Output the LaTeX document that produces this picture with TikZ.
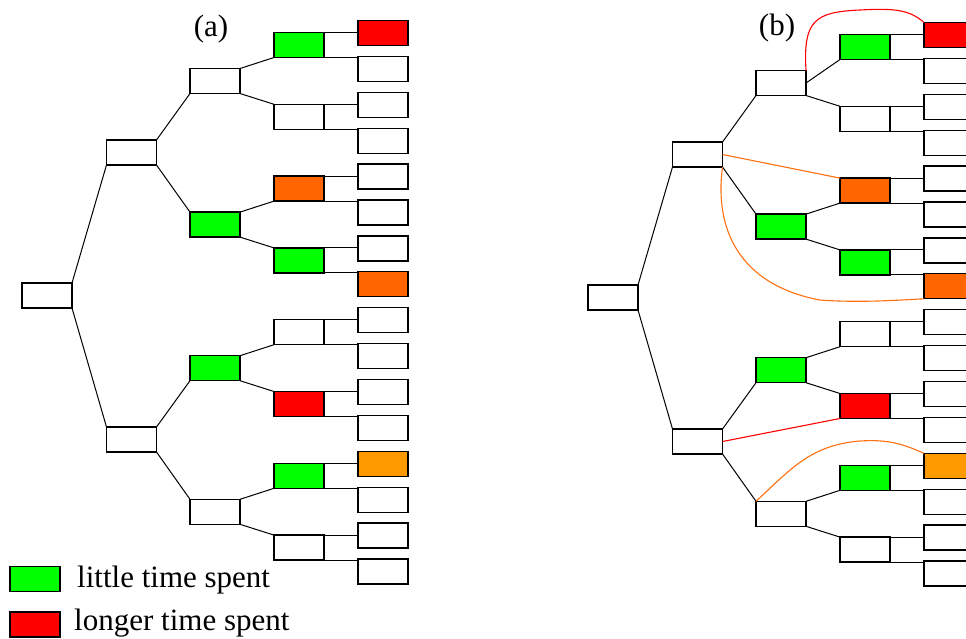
\documentclass[tikz,border=0pt]{standalone}
\usepackage{fontspec}
\setmainfont{Liberation Serif}
\definecolor{cgreen}{HTML}{00FF00}
\definecolor{cred}{HTML}{FF0000}
\definecolor{corange}{HTML}{FF6600}
\definecolor{clorange}{HTML}{FF9900}
\definecolor{ccurve}{HTML}{FF7010}
\newcommand\drawtree[2]{%
  \node[box] (#1-0) at (47,295.5) {};
  \foreach \c [count=\i] in {white,white}
    {\node[box,fill=\c] (#1-1-\i) at (131.5,{152.5+287*(\i-1)}) {};}
  \foreach \c [count=\i] in {white,cgreen,cgreen,white}
    {\node[box,fill=\c] (#1-2-\i) at (215,{81+143.6*(\i-1)}) {};}
  \foreach \c [count=\i] in {cgreen,white,corange,cgreen,white,cred,cgreen,white}
    {\node[box,fill=\c] (#1-3-\i) at (299,{45+71.8*(\i-1)}) {};}
  \foreach \c [count=\i] in {cred,white,white,white,white,white,white,corange,white,white,white,white,clorange,white,white,white}
    {\node[box,fill=\c] (#1-4-\i) at (383,{33+35.9*(\i-1)}) {};}
  \draw[link] (#1-0.north east) -- (#1-1-1.south west);
  \draw[link] (#1-0.south east) -- (#1-1-2.north west);
  \foreach \p in {1,2}{%
    \pgfmathtruncatemacro\u{2*\p-1}\pgfmathtruncatemacro\l{2*\p}%
    \draw[link] (#1-1-\p.north east) -- (#1-2-\u.south west);
    \draw[link] (#1-1-\p.south east) -- (#1-2-\l.north west);}
  \draw[link] (#1-2-1.#2) -- (#1-3-1.south west);
  \draw[link] (#1-2-1.south east) -- (#1-3-2.north west);
  \foreach \p in {2,3,4}{%
    \pgfmathtruncatemacro\u{2*\p-1}\pgfmathtruncatemacro\l{2*\p}%
    \draw[link] (#1-2-\p.north east) -- (#1-3-\u.south west);
    \draw[link] (#1-2-\p.south east) -- (#1-3-\l.north west);}
  \foreach \p in {1,...,8}{%
    \pgfmathtruncatemacro\u{2*\p-1}\pgfmathtruncatemacro\l{2*\p}%
    \draw[link] (#1-3-\p.north east) -- (#1-3-\p.north east -| #1-4-\u.west);
    \draw[link] (#1-3-\p.south east) -- (#1-3-\p.south east -| #1-4-\l.west);}
}
\begin{document}
\begin{tikzpicture}[x=1pt,y=-1pt,
  box/.style={draw=black,line width=1.3pt,minimum width=50pt,minimum height=25pt,inner sep=0pt,outer sep=0pt},
  link/.style={line width=1pt,black},
  lab/.style={font=\fontsize{31}{31}\selectfont,inner sep=0pt},
  redc/.style={draw=cred,line width=1.1pt},
  orc/.style={draw=ccurve,line width=1.1pt}]
\clip (0,0) rectangle (966,638);
\fill[white] (0,0) rectangle (966,638);
\begin{scope}
\drawtree{a}{north east}
\end{scope}
\begin{scope}[shift={(566,2)}]
\drawtree{b}{east}
\end{scope}
\node[lab] (la) at (211,29.5) {(a)};
\node[lab] (lb) at (777,28) {(b)};
% highlight connectors in (b)
\draw[redc] (b-2-1.north east) .. controls (803,20) and (815,12) .. (860,10)
  .. controls (895,8) and (910,10) .. (b-4-1.north west);
\draw[orc] (b-1-1.east) -- (b-3-3.north west);
\draw[orc] (b-1-1.south east) .. controls (714,230) and (740,285) .. (820,300)
  .. controls (860,303) and (900,300) .. (b-4-8.south west);
\draw[redc] (b-1-2.east) -- (b-3-6.south west);
\draw[orc] (b-2-4.north west) .. controls (790,470) and (810,445) .. (860,441)
  .. controls (890,439) and (905,445) .. (b-4-13.north west);
% legend
\node[box,fill=cgreen] (lg) at (35,579) {};
\node[box,fill=cred] (lr) at (35,624.5) {};
\node[lab,anchor=base west] (tg) at (77,587) {little time spent};
\node[lab,anchor=base west] (tr) at (74,630) {longer time spent};
\end{tikzpicture}
\end{document}
